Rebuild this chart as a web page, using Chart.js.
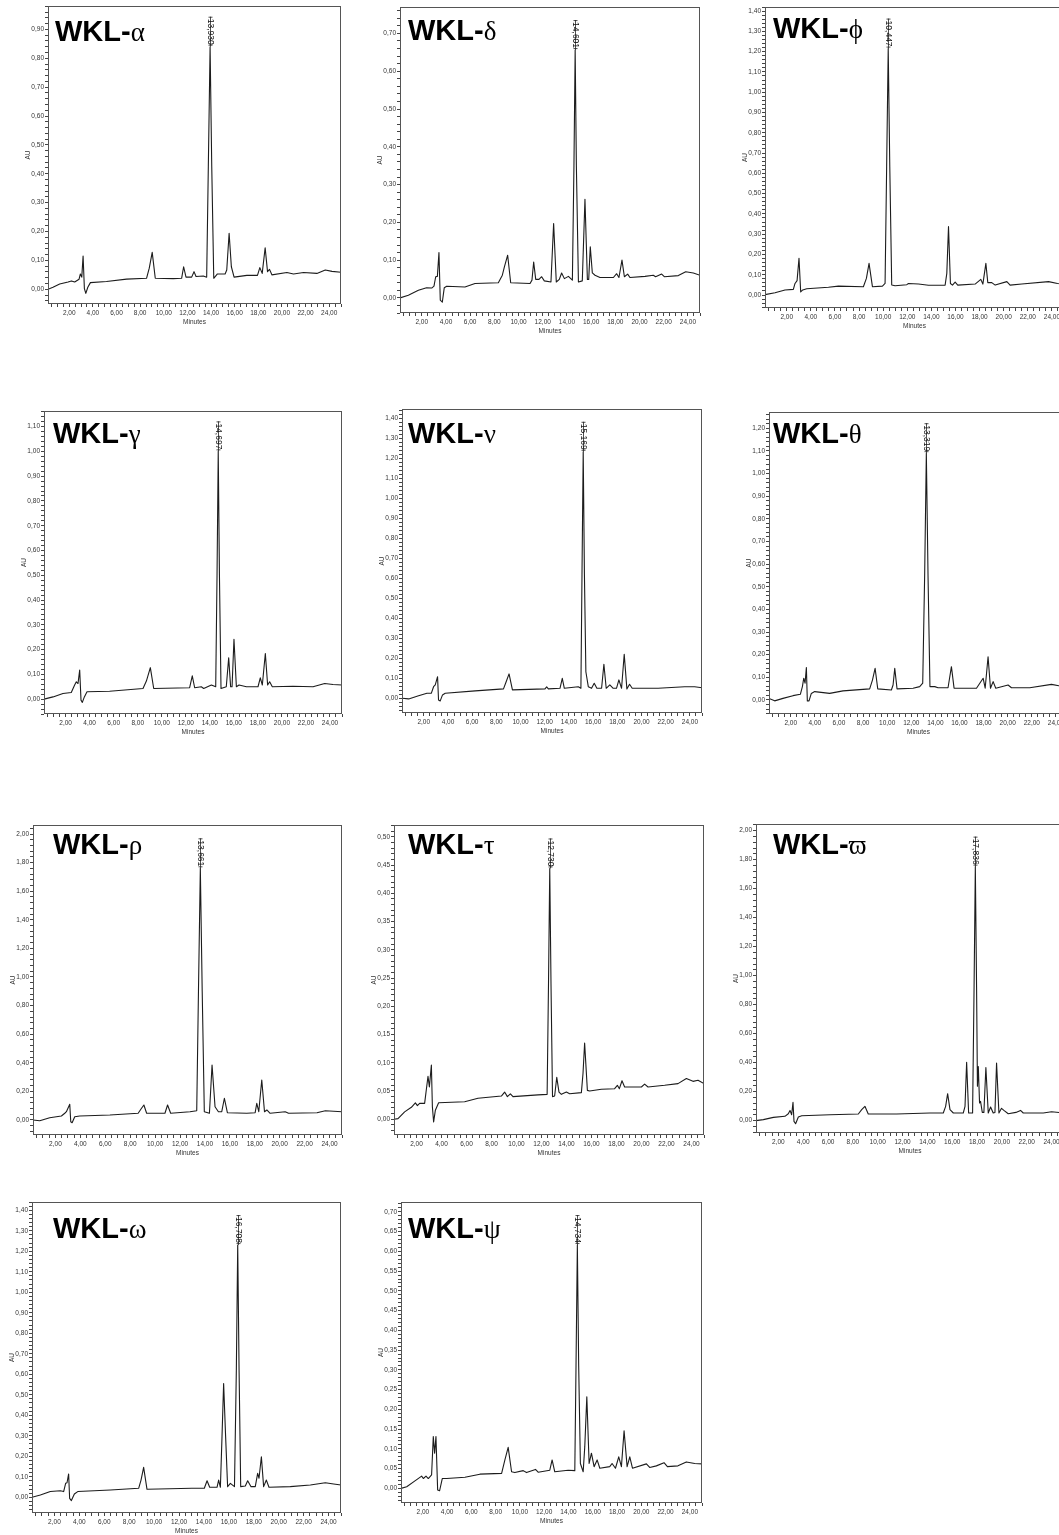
<!DOCTYPE html>
<html>
<head>
<meta charset="utf-8">
<title>WKL chromatograms</title>
<script src="https://cdn.jsdelivr.net/npm/chart.js@4.4.1/dist/chart.umd.min.js"></script>
<style>
  html, body { margin: 0; padding: 0; background: #fff; }
  body { position: relative; width: 1059px; height: 1535px; overflow: hidden; }
  canvas { position: absolute; }
  .wkl { position: absolute; white-space: nowrap; line-height: 30px; color: #000;
         font: bold 29px "Liberation Sans", Arial, sans-serif; }
  .wkl span { font: normal 27px "Liberation Serif", "Times New Roman", serif; }
</style>
</head>
<body>
<script>
// [minutes, AU]
const traceAlpha = [[0.20,0.000],[0.62,0.007],[1.19,0.018],[1.90,0.025],[2.18,0.029],[2.46,0.025],[2.83,0.035],[2.94,0.053],[3.06,0.042],[3.17,0.115],[3.28,0.002],[3.40,-0.014],[3.57,0.007],[3.79,0.023],[5.15,0.027],[6.85,0.035],[8.54,0.038],[8.77,0.073],[9.02,0.128],[9.28,0.038],[10.80,0.037],[11.51,0.038],[11.68,0.078],[11.88,0.042],[12.36,0.042],[12.56,0.061],[12.73,0.044],[13.35,0.046],[13.63,0.042],[13.77,0.424],[13.92,0.840],[14.06,0.424],[14.23,0.038],[14.54,0.053],[15.19,0.053],[15.33,0.067],[15.53,0.194],[15.72,0.078],[15.95,0.042],[17.03,0.048],[17.93,0.048],[18.13,0.075],[18.33,0.055],[18.58,0.144],[18.78,0.061],[18.95,0.069],[19.15,0.050],[20.42,0.058],[20.98,0.053],[21.83,0.058],[22.96,0.055],[23.67,0.067],[24.24,0.062],[25.00,0.059]];
const traceDelta = [[0.20,0.000],[0.89,0.007],[1.72,0.020],[2.40,0.027],[2.82,0.026],[3.01,0.031],[3.15,0.056],[3.29,0.057],[3.42,0.120],[3.53,-0.006],[3.70,-0.011],[3.86,0.027],[4.06,0.031],[5.57,0.029],[6.40,0.038],[8.33,0.040],[8.66,0.060],[8.83,0.082],[9.10,0.113],[9.35,0.040],[10.95,0.038],[11.11,0.047],[11.25,0.095],[11.42,0.049],[11.69,0.049],[11.91,0.056],[12.13,0.045],[12.68,0.042],[12.90,0.197],[13.12,0.042],[13.37,0.049],[13.56,0.066],[13.79,0.051],[14.12,0.057],[14.45,0.047],[14.58,0.350],[14.68,0.656],[14.78,0.350],[14.95,0.042],[15.27,0.045],[15.49,0.261],[15.69,0.049],[15.80,0.049],[15.93,0.135],[16.10,0.066],[16.32,0.060],[16.73,0.054],[17.84,0.054],[18.11,0.064],[18.30,0.054],[18.55,0.100],[18.75,0.056],[19.02,0.063],[19.21,0.054],[20.45,0.057],[21.14,0.060],[21.33,0.056],[21.83,0.063],[22.05,0.056],[23.21,0.059],[23.82,0.069],[24.45,0.066],[25.00,0.060]];
const tracePhi = [[0.20,0.002],[1.03,0.011],[1.86,0.025],[2.55,0.028],[2.69,0.057],[2.86,0.071],[3.02,0.181],[3.16,0.015],[3.33,0.025],[3.66,0.031],[5.46,0.038],[6.29,0.044],[8.36,0.041],[8.61,0.082],[8.83,0.156],[9.11,0.041],[9.94,0.044],[10.16,0.057],[10.29,0.632],[10.42,1.215],[10.55,0.632],[10.71,0.049],[10.99,0.046],[11.96,0.051],[12.10,0.057],[12.93,0.054],[13.76,0.048],[15.14,0.049],[15.28,0.107],[15.42,0.337],[15.58,0.057],[15.75,0.049],[15.97,0.064],[16.19,0.049],[17.63,0.054],[18.10,0.077],[18.27,0.054],[18.52,0.156],[18.68,0.061],[19.01,0.061],[19.29,0.049],[20.26,0.066],[20.53,0.049],[21.50,0.054],[23.72,0.066],[24.46,0.057],[25.00,0.054]];
const traceGamma = [[0.20,0.000],[0.95,0.009],[1.78,0.023],[2.47,0.027],[2.75,0.057],[2.89,0.070],[3.03,0.063],[3.17,0.117],[3.28,-0.004],[3.39,-0.013],[3.56,0.009],[3.78,0.030],[5.66,0.032],[8.44,0.043],[8.72,0.073],[9.05,0.127],[9.33,0.043],[12.32,0.046],[12.54,0.094],[12.74,0.046],[13.29,0.050],[13.49,0.043],[14.13,0.057],[14.49,0.050],[14.60,0.500],[14.70,1.000],[14.80,0.500],[14.93,0.043],[15.37,0.050],[15.57,0.167],[15.73,0.050],[15.85,0.050],[16.01,0.242],[16.21,0.050],[16.43,0.057],[17.04,0.050],[18.01,0.050],[18.20,0.086],[18.37,0.057],[18.62,0.184],[18.81,0.057],[18.98,0.070],[19.20,0.050],[20.92,0.052],[22.59,0.050],[23.56,0.063],[24.25,0.059],[25.00,0.057]];
const traceNu = [[0.20,0.000],[0.75,-0.003],[1.57,0.013],[2.26,0.025],[2.62,0.025],[2.81,0.058],[2.95,0.067],[3.14,0.108],[3.22,-0.008],[3.36,-0.013],[3.55,0.017],[3.77,0.025],[6.25,0.037],[8.59,0.047],[8.81,0.083],[9.05,0.122],[9.33,0.042],[12.02,0.047],[12.16,0.057],[12.30,0.047],[13.26,0.050],[13.45,0.100],[13.62,0.050],[14.77,0.058],[14.99,0.050],[15.08,0.620],[15.18,1.233],[15.28,0.620],[15.40,0.133],[15.60,0.058],[15.87,0.050],[16.09,0.075],[16.31,0.050],[16.70,0.050],[16.89,0.170],[17.08,0.050],[17.38,0.067],[17.66,0.050],[17.93,0.050],[18.13,0.092],[18.35,0.050],[18.57,0.220],[18.79,0.047],[19.01,0.070],[19.23,0.050],[21.37,0.050],[23.57,0.058],[24.39,0.058],[25.00,0.053]];
const traceTheta = [[0.20,0.007],[0.67,-0.004],[1.36,0.007],[2.19,0.019],[2.80,0.025],[2.97,0.059],[3.08,0.096],[3.19,0.074],[3.30,0.143],[3.38,-0.004],[3.52,-0.004],[3.71,0.029],[3.99,0.037],[5.23,0.029],[6.34,0.040],[8.55,0.049],[8.78,0.088],[9.00,0.140],[9.22,0.049],[10.35,0.044],[10.49,0.066],[10.63,0.140],[10.82,0.049],[12.15,0.052],[12.70,0.059],[12.95,0.074],[13.11,0.550],[13.25,1.090],[13.39,0.550],[13.55,0.059],[13.95,0.059],[14.22,0.054],[15.05,0.054],[15.33,0.147],[15.55,0.052],[16.30,0.052],[17.41,0.052],[17.96,0.096],[18.13,0.052],[18.37,0.191],[18.57,0.052],[18.79,0.081],[19.01,0.052],[20.03,0.066],[20.31,0.054],[21.83,0.054],[23.63,0.069],[24.24,0.063],[25.00,0.059]];
const traceRho = [[0.20,0.000],[0.74,-0.005],[1.54,0.016],[2.48,0.028],[2.75,0.047],[2.88,0.058],[3.15,0.110],[3.23,-0.012],[3.34,-0.019],[3.55,0.023],[3.95,0.028],[6.37,0.035],[8.64,0.047],[8.91,0.082],[9.10,0.105],[9.32,0.047],[10.79,0.047],[11.00,0.105],[11.25,0.047],[12.80,0.058],[13.34,0.065],[13.48,0.900],[13.63,1.760],[13.78,0.900],[13.95,0.058],[14.36,0.047],[14.57,0.385],[14.81,0.093],[15.08,0.058],[15.35,0.058],[15.56,0.152],[15.80,0.051],[17.36,0.047],[18.03,0.051],[18.16,0.117],[18.32,0.058],[18.56,0.280],[18.78,0.058],[18.97,0.070],[19.23,0.047],[20.44,0.058],[20.71,0.047],[22.99,0.051],[23.66,0.065],[25.00,0.058]];
const traceTau = [[0.20,0.000],[0.52,0.001],[1.05,0.013],[1.59,0.021],[1.91,0.029],[2.07,0.024],[2.25,0.028],[2.65,0.028],[2.92,0.076],[3.03,0.057],[3.19,0.096],[3.27,0.022],[3.37,-0.005],[3.51,0.016],[3.77,0.029],[5.85,0.031],[6.92,0.037],[8.79,0.041],[9.05,0.048],[9.27,0.040],[9.51,0.045],[9.72,0.040],[11.72,0.043],[12.45,0.044],[12.56,0.240],[12.66,0.444],[12.76,0.240],[12.88,0.040],[13.05,0.041],[13.22,0.074],[13.40,0.048],[13.59,0.044],[13.99,0.048],[14.25,0.045],[15.19,0.047],[15.32,0.081],[15.45,0.135],[15.67,0.051],[15.85,0.050],[16.79,0.053],[17.85,0.054],[18.07,0.060],[18.23,0.054],[18.44,0.068],[18.65,0.057],[19.99,0.057],[20.25,0.062],[20.52,0.057],[21.85,0.060],[22.92,0.063],[23.59,0.072],[24.12,0.067],[24.52,0.069],[25.00,0.063]];
const traceVarpi = [[0.20,0.000],[0.79,0.007],[1.60,0.023],[2.53,0.030],[2.80,0.048],[2.94,0.071],[3.07,0.041],[3.18,0.126],[3.26,-0.005],[3.39,-0.021],[3.61,0.025],[3.88,0.034],[6.16,0.041],[8.44,0.046],[8.71,0.076],[8.97,0.099],[9.24,0.046],[11.52,0.046],[14.21,0.053],[15.28,0.053],[15.47,0.099],[15.63,0.186],[15.82,0.076],[16.09,0.053],[16.89,0.053],[17.03,0.099],[17.16,0.402],[17.32,0.053],[17.64,0.053],[17.76,0.925],[17.86,1.752],[17.96,0.925],[18.03,0.237],[18.10,0.374],[18.20,0.122],[18.28,0.133],[18.42,0.057],[18.55,0.057],[18.71,0.367],[18.90,0.053],[19.09,0.094],[19.30,0.053],[19.44,0.057],[19.57,0.397],[19.76,0.053],[19.97,0.085],[20.16,0.071],[20.51,0.048],[21.13,0.057],[21.50,0.071],[21.72,0.053],[23.33,0.053],[24.00,0.062],[25.00,0.053]];
const traceOmega = [[0.20,0.000],[0.87,0.011],[1.67,0.028],[2.47,0.032],[2.74,0.028],[2.90,0.068],[3.01,0.071],[3.14,0.114],[3.22,-0.005],[3.36,-0.016],[3.60,0.016],[3.87,0.028],[6.49,0.036],[8.76,0.044],[8.95,0.084],[9.16,0.146],[9.43,0.039],[13.04,0.044],[14.03,0.044],[14.25,0.081],[14.46,0.049],[15.05,0.049],[15.18,0.084],[15.32,0.049],[15.45,0.296],[15.58,0.555],[15.74,0.296],[15.90,0.052],[16.12,0.068],[16.45,0.052],[16.60,0.620],[16.71,1.230],[16.82,0.620],[16.95,0.052],[17.32,0.055],[17.51,0.081],[17.78,0.052],[18.12,0.052],[18.31,0.117],[18.42,0.093],[18.61,0.198],[18.79,0.052],[19.01,0.084],[19.22,0.049],[20.93,0.052],[22.54,0.060],[23.74,0.071],[24.41,0.065],[25.00,0.060]];
const tracePsi = [[0.20,0.000],[0.67,0.004],[1.35,0.019],[1.90,0.031],[2.04,0.025],[2.26,0.031],[2.45,0.025],[2.72,0.034],[2.86,0.131],[2.97,0.089],[3.08,0.131],[3.22,-0.004],[3.38,-0.006],[3.60,0.025],[3.96,0.025],[5.47,0.028],[6.70,0.036],[8.49,0.038],[8.76,0.072],[9.03,0.104],[9.31,0.042],[9.58,0.040],[10.27,0.045],[10.54,0.040],[11.28,0.048],[11.50,0.041],[12.46,0.046],[12.65,0.072],[12.87,0.042],[13.97,0.046],[14.52,0.045],[14.62,0.310],[14.73,0.616],[14.84,0.310],[14.98,0.063],[15.21,0.042],[15.34,0.105],[15.51,0.232],[15.70,0.063],[15.89,0.089],[16.11,0.055],[16.36,0.072],[16.58,0.051],[17.40,0.055],[17.59,0.063],[17.87,0.051],[18.14,0.080],[18.36,0.055],[18.58,0.146],[18.83,0.055],[19.05,0.080],[19.27,0.051],[20.42,0.062],[20.69,0.053],[21.24,0.057],[21.87,0.065],[22.15,0.055],[23.02,0.057],[23.71,0.067],[24.40,0.063],[25.00,0.062]];

const greekLetters = ['α', 'δ', 'ϕ', 'γ', 'ν', 'θ', 'ρ', 'τ', 'ϖ', 'ω', 'ψ'];
const retentionLabels = ['13,930', '14,601', '10,447', '14,697', '15,169', '13,319', '13,661', '12,730', '17,836', '16,708', '14,734'];
// AU axis: min, max, labelled step
const auAxes = [[-0.051, 0.981, 0.1], [-0.04, 0.77, 0.1], [-0.064, 1.42, 0.1], [-0.06, 1.163, 0.1],
  [-0.0735, 1.447, 0.1], [-0.062, 1.272, 0.1], [-0.105, 2.063, 0.2], [-0.028, 0.521, 0.05],
  [-0.085, 2.046, 0.2], [-0.0765, 1.44, 0.1], [-0.037, 0.725, 0.05]];
const minutesAxis = [0.2, 25, 2];

const traces = [traceAlpha, traceDelta, tracePhi, traceGamma, traceNu, traceTheta, traceRho, traceTau, traceVarpi, traceOmega, tracePsi];

// plot frame on the page: left, top, right, bottom
const frames = [[48, 6, 341, 304], [400, 7, 700, 313], [765, 7, 1064, 308],
  [44, 411, 342, 714], [402, 409, 702, 713], [769, 412, 1068, 714],
  [33, 825, 342, 1135], [394, 825, 704, 1135], [756, 824, 1064, 1133],
  [32, 1202, 341, 1513], [401, 1202, 702, 1503]];
// title left edge and baseline
const titleSpots = [[55, 40], [408, 39], [773, 37], [53, 442], [408, 442], [773, 442],
  [53, 853], [408, 853], [773, 853], [53, 1237], [408, 1237]];

const Y_W = 24, X_H = 22, PAD = 5;
const FONT = '"Liberation Sans", Arial, sans-serif';

function onStep(v, step) {
  const q = v / step;
  return Math.abs(q - Math.round(q)) < 1e-6;
}
function comma(v) {
  return Math.abs(v).toFixed(2).replace('.', ',');
}

const framePlugin = {
  id: 'frame',
  afterDraw(chart) {
    const a = chart.chartArea, ctx = chart.ctx;
    ctx.save();
    ctx.strokeStyle = '#555';
    ctx.lineWidth = 1;
    ctx.strokeRect(Math.round(a.left) + 0.5, Math.round(a.top) + 0.5,
      Math.round(a.right - a.left) - 1, Math.round(a.bottom - a.top) - 1);
    ctx.restore();
  }
};

// rotated retention time written over the top of the main peak
const rtPlugin = {
  id: 'rt',
  afterDatasetsDraw(chart, args, opts) {
    const pts = chart.data.datasets[0].data;
    let top = pts[0];
    pts.forEach((p) => { if (p.y > top.y) top = p; });
    const x = Math.round(chart.scales.x.getPixelForValue(top.x)) + 0.5;
    const y = chart.scales.y.getPixelForValue(top.y);
    const ctx = chart.ctx;
    ctx.save();
    ctx.font = '8.5px ' + FONT;
    const w = ctx.measureText(opts.text).width;
    const y1 = y - w - 4;
    ctx.strokeStyle = '#222';
    ctx.lineWidth = 0.8;
    ctx.beginPath();
    ctx.moveTo(x, y);
    ctx.lineTo(x, y1);
    ctx.moveTo(x - 2, y1 + 0.5);
    ctx.lineTo(x + 2, y1 + 0.5);
    ctx.moveTo(x - 2, y - 1.5);
    ctx.lineTo(x + 2, y - 1.5);
    ctx.stroke();
    ctx.translate(x, y1 + 1);
    ctx.rotate(Math.PI / 2);
    ctx.fillStyle = '#111';
    ctx.textAlign = 'left';
    ctx.textBaseline = 'middle';
    ctx.fillText(opts.text, 1, 0);
    ctx.restore();
  }
};

traces.forEach((trace, i) => {
  const [l, t, r, b] = frames[i];
  const [yMin, yMax, yStep] = auAxes[i];
  const w = r - l + Y_W + PAD;
  const h = b - t + PAD + X_H;

  const cv = document.createElement('canvas');
  cv.width = w;
  cv.height = h;
  cv.style.left = (l - Y_W) + 'px';
  cv.style.top = (t - PAD) + 'px';
  cv.style.width = w + 'px';
  cv.style.height = h + 'px';
  document.body.appendChild(cv);

  const tickFont = { family: FONT, size: 6.5 };

  new Chart(cv, {
    type: 'line',
    data: {
      datasets: [{
        data: trace.map(([m, au]) => ({ x: m, y: au })),
        borderColor: '#1c1c1c',
        borderWidth: 1.1,
        borderJoinStyle: 'round',
        pointRadius: 0,
        tension: 0,
        fill: false
      }]
    },
    options: {
      responsive: false,
      animation: false,
      devicePixelRatio: 1,
      events: [],
      layout: { padding: { top: PAD, right: PAD, left: 0, bottom: 0 } },
      plugins: {
        legend: { display: false },
        tooltip: { enabled: false },
        rt: { text: retentionLabels[i] }
      },
      scales: {
        x: {
          type: 'linear',
          min: minutesAxis[0],
          max: minutesAxis[1],
          afterFit(s) { s.height = X_H; },
          border: { display: false },
          grid: { drawOnChartArea: false, tickLength: 3, color: '#444' },
          ticks: {
            stepSize: 0.5,
            includeBounds: false,
            autoSkip: false,
            maxRotation: 0,
            padding: 2,
            color: '#333',
            font: tickFont,
            callback: (v) => (onStep(v, minutesAxis[2]) ? comma(v) : '')
          },
          title: { display: true, text: 'Minutes', color: '#333', font: tickFont, padding: 0 }
        },
        y: {
          type: 'linear',
          min: yMin,
          max: yMax,
          afterFit(s) { s.width = Y_W; },
          border: { display: false },
          grid: { drawOnChartArea: false, tickLength: 3, color: '#444' },
          ticks: {
            stepSize: yStep / 5,
            includeBounds: false,
            autoSkip: false,
            padding: 1,
            color: '#333',
            font: tickFont,
            callback: (v) => (onStep(v, yStep) ? comma(v) : '')
          },
          title: { display: true, text: 'AU', color: '#333', font: tickFont, padding: 0 }
        }
      }
    },
    plugins: [framePlugin, rtPlugin]
  });

  const title = document.createElement('div');
  title.className = 'wkl';
  title.style.left = titleSpots[i][0] + 'px';
  title.style.top = (titleSpots[i][1] - 25) + 'px';
  title.textContent = 'WKL-';
  const g = document.createElement('span');
  g.textContent = greekLetters[i];
  title.appendChild(g);
  document.body.appendChild(title);
});
</script>
</body>
</html>
